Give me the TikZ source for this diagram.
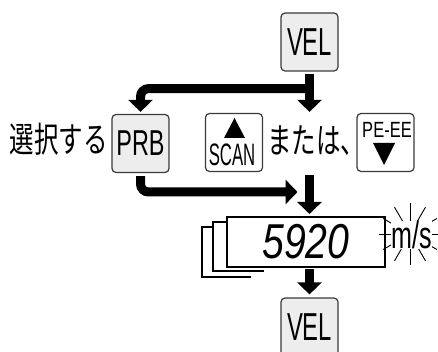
\documentclass[tikz,border=0pt]{standalone}
\usepackage{fontspec}
\setmainfont{Liberation Sans}
\newfontfamily\jpfont{Noto Sans CJK JP}
\usepackage{graphicx}
\usetikzlibrary{arrows.meta}
\definecolor{keygray}{HTML}{EDEDED}
\definecolor{edgegray}{HTML}{3A3A3A}
\newcommand\ktext[3]{\scalebox{#1}[1]{\fontsize{#2}{#2}\selectfont #3}}
\begin{document}
\begin{tikzpicture}[x=1pt,y=-1pt,
  key/.style={draw=edgegray, line width=1.2pt, rounded corners=4pt, minimum width=57pt, minimum height=58pt, inner sep=0pt, fill=white},
  graykey/.style={key, fill=keygray},
  flow/.style={line width=9pt, -{Triangle[width=24pt,length=12pt]}, rounded corners=8pt},
  txt/.style={inner sep=0pt},
  frame/.style={line width=2pt},
  ray/.style={line width=0.9pt}]
\useasboundingbox (0,0) rectangle (438,352);
\clip (0,0) rectangle (438,352);
% keys
\node[graykey] (vel1) at (309.5,42) {\raisebox{-1.5pt}{\ktext{0.61}{39}{VEL}}};
\node[graykey] (prb) at (140.5,143.5) {\ktext{0.65}{36}{PRB}};
\node[key] (scan) at (234,142.5) {};
\node[key] (pe) at (385.5,142.5) {};
\node[txt] (scantxt) at (232,155) {\ktext{0.54}{31}{SCAN}};
\node[txt] (petxt) at (387,130) {\ktext{0.75}{22}{PE-EE}};
\fill (224,138) -- (245,138) -- (234.5,118) -- cycle;
\fill (373,143) -- (395,143) -- (384,165) -- cycle;
\node[graykey] (vel2) at (309.5,327) {\raisebox{-1.5pt}{\ktext{0.61}{39}{VEL}}};
% japanese text
\node[txt, anchor=east] (sel) at (108,139) {\jpfont\ktext{0.7}{35}{選択する}};
\node[txt, anchor=west] (orr) at (267,141) {\jpfont\ktext{0.7}{35}{または、}};
% display
\draw[frame] (226,222) -- (213,222) -- (213,271) -- (264,271);
\draw[frame] (212,227) -- (202,227) -- (202,277) -- (251,277);
\node[draw, frame, fill=white, minimum width=158pt, minimum height=50pt, inner sep=0pt] (disp) at (306,242) {\itshape\ktext{0.8}{49}{5920}};
% blinking unit
\foreach \a in {0,30,...,330} \draw[ray] (410,234) ++(\a:12) -- ++(\a:19);
\node[txt, fill=white] (ms) at (411.5,235) {\ktext{0.66}{38}{m/s}};
% arrows
\coordinate (join) at (309.5,192);
\draw[flow] ([yshift=-2pt]vel1.south) -- ([yshift=1pt]vel1.south |- scan.north);
\draw[flow] ([yshift=-17pt]vel1.south) -| ([yshift=2pt]prb.north);
\draw[flow] ([yshift=-3pt]prb.south) |- ([xshift=-12pt]join);
\draw[flow] ([yshift=-3pt]scan.south -| vel1.south) -- ([yshift=2pt]disp.north -| vel1.south);
\draw[flow] ([yshift=-1pt]disp.south -| vel1.south) -- ([yshift=3pt]vel2.north);
\end{tikzpicture}
\end{document}
